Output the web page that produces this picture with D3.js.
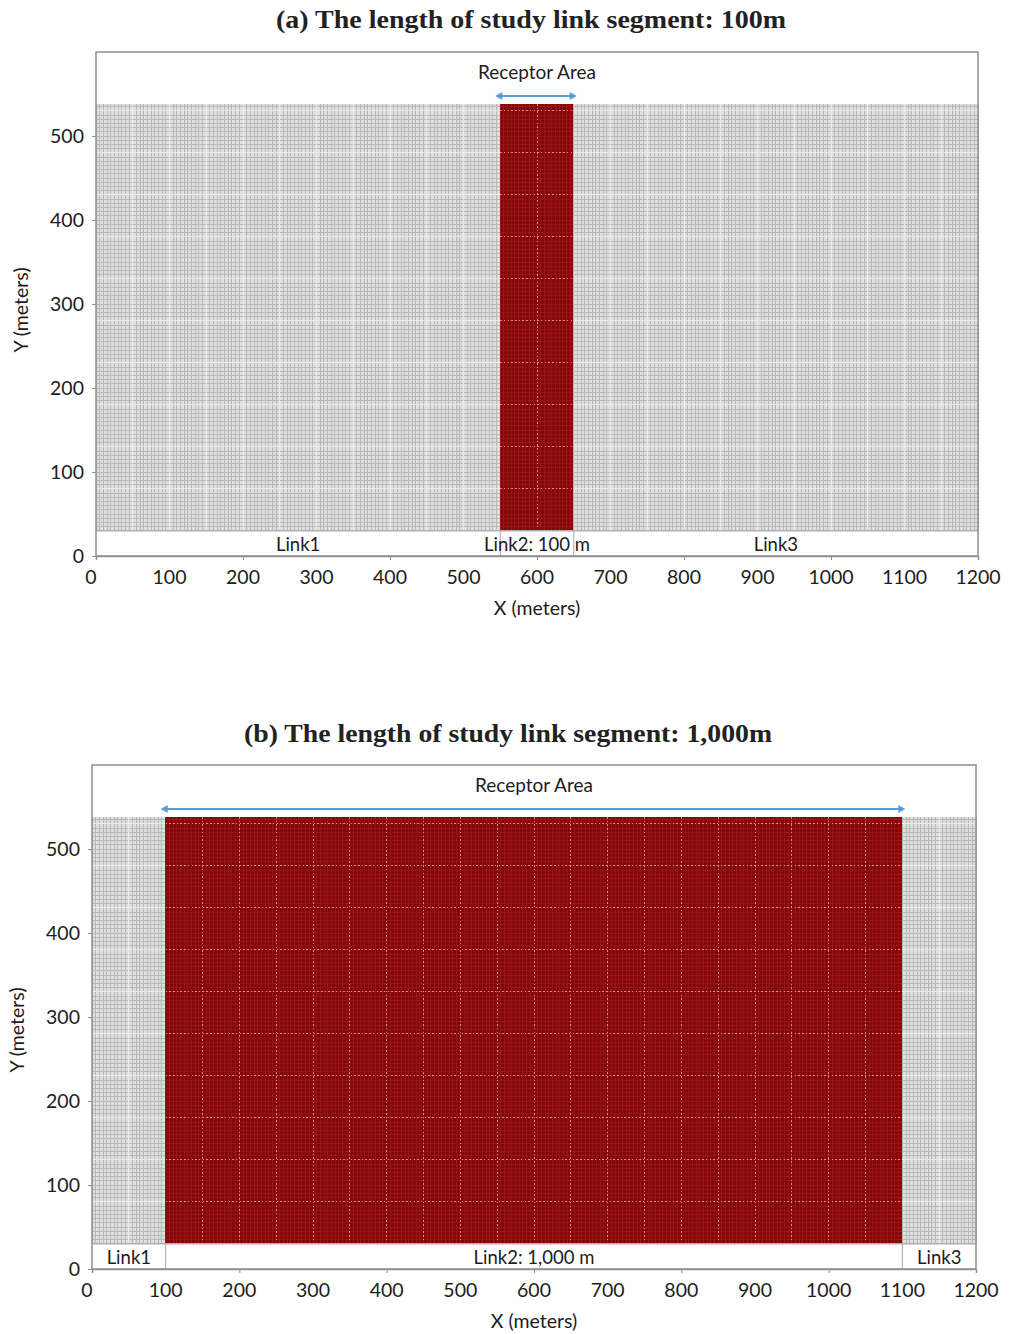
<!DOCTYPE html>
<html>
<head>
<meta charset="utf-8">
<script src="https://cdn.jsdelivr.net/npm/d3@7"></script>
<style>
  html, body { margin: 0; padding: 0; background: #fff; }
  svg { display: block; }
</style>
</head>
<body>
<svg id="chart" width="1011" height="1334"></svg>
<script>
// Study domain (meters)
const xDomain = [0, 1200];
const yDomain = [0, 600];
const xTickLabels = [0, 100, 200, 300, 400, 500, 600, 700, 800, 900, 1000, 1100, 1200];
const xTickMarks = [0, 200, 400, 600, 800, 1000, 1200];
const yTickLabels = [0, 100, 200, 300, 400, 500];

// Receptor grid: rows from the road edge up to the top row, 5 m spacing
const roadEdgeY = 30;
const gridTopY = 538;
const receptorSpacing = 5;
const majorSpacing = 50;

// Panel (a): 100 m study link
const titleA = "(a) The length of study link segment: 100m";
const linkBoundsA = [0, 550, 650, 1200];
const linkNamesA = ["Link1", "Link2: 100 m", "Link3"];
const receptorAreaA = [550, 650];

// Panel (b): 1,000 m study link
const titleB = "(b) The length of study link segment: 1,000m";
const linkBoundsB = [0, 100, 1100, 1200];
const linkNamesB = ["Link1", "Link2: 1,000 m", "Link3"];
const receptorAreaB = [100, 1100];

const svg = d3.select("#chart");
const sansFont = "Lato, 'Open Sans', sans-serif";
const serifFont = "'Liberation Serif', 'DejaVu Serif', serif";
const textColor = "#1c1c1c";

function drawPanel(opt) {
  const { box, title, titleX, titleY, titleWidth, bounds, names, receptor } = opt;
  const x = d3.scaleLinear().domain(xDomain).range([box.left, box.right]);
  const y = d3.scaleLinear().domain(yDomain).range([box.bottom, box.top]);
  const g = svg.append("g");

  // Title
  g.append("text")
    .attr("x", titleX)
    .attr("y", titleY)
    .attr("text-anchor", "middle")
    .attr("font-family", serifFont)
    .attr("font-weight", "bold")
    .attr("font-size", 26)
    .attr("textLength", titleWidth)
    .attr("lengthAdjust", "spacingAndGlyphs")
    .attr("fill", "#222")
    .text(title);

  // Plot frame background
  g.append("rect")
    .attr("x", box.left).attr("y", box.top)
    .attr("width", box.right - box.left).attr("height", box.bottom - box.top)
    .attr("fill", "#fff");

  const rows = d3.range(roadEdgeY, gridTopY + 0.1, receptorSpacing);
  const majorRows = rows.filter(v => (v - roadEdgeY) % majorSpacing === 0 && v > roadEdgeY);

  // Receptor grid regions: gray outside the receptor area, red inside
  const regions = [];
  if (receptor[0] > xDomain[0]) regions.push({ x0: xDomain[0], x1: receptor[0], kind: "gray" });
  regions.push({ x0: receptor[0], x1: receptor[1], kind: "red" });
  if (receptor[1] < xDomain[1]) regions.push({ x0: receptor[1], x1: xDomain[1], kind: "gray" });

  regions.forEach(r => {
    const cols = d3.range(r.x0, r.x1 + 0.1, receptorSpacing);
    const majorCols = cols.filter(v => v % majorSpacing === 0 && v > r.x0 && v < r.x1);
    const rg = g.append("g").attr("shape-rendering", "crispEdges");
    const isRed = r.kind === "red";
    rg.append("rect")
      .attr("x", x(r.x0)).attr("y", y(gridTopY))
      .attr("width", x(r.x1) - x(r.x0)).attr("height", y(roadEdgeY) - y(gridTopY))
      .attr("fill", isRed ? "#850606" : "#dedede");
    rg.selectAll("line.v").data(cols).join("line")
      .attr("x1", d => x(d)).attr("x2", d => x(d))
      .attr("y1", y(gridTopY)).attr("y2", y(roadEdgeY))
      .attr("stroke", isRed ? "#951616" : "#b8b8b8").attr("stroke-width", 1);
    rg.selectAll("line.h").data(rows).join("line")
      .attr("x1", x(r.x0)).attr("x2", x(r.x1))
      .attr("y1", d => y(d)).attr("y2", d => y(d))
      .attr("stroke", isRed ? "#951616" : "#b8b8b8").attr("stroke-width", 1);
    // lighter receptor lines every 50 m
    rg.selectAll("line.mv").data(majorCols).join("line")
      .attr("x1", d => x(d)).attr("x2", d => x(d))
      .attr("y1", y(gridTopY)).attr("y2", y(roadEdgeY))
      .attr("stroke", isRed ? "#e4a0a0" : "#ffffff")
      .attr("stroke-dasharray", isRed ? "1.5,2.2" : null)
      .attr("stroke-opacity", isRed ? 0.85 : 0.7)
      .attr("stroke-width", 1);
    rg.selectAll("line.mh").data(majorRows).join("line")
      .attr("x1", x(r.x0)).attr("x2", x(r.x1))
      .attr("y1", d => y(d)).attr("y2", d => y(d))
      .attr("stroke", isRed ? "#e4a0a0" : "#ffffff")
      .attr("stroke-dasharray", isRed ? "1.5,2.2" : null)
      .attr("stroke-opacity", isRed ? 0.85 : 0.7)
      .attr("stroke-width", 1);
  });

  // Road edge and link dividers
  g.append("line")
    .attr("x1", x(xDomain[0])).attr("x2", x(xDomain[1]))
    .attr("y1", y(roadEdgeY)).attr("y2", y(roadEdgeY))
    .attr("stroke", "#b0b0b0").attr("stroke-width", 1.5);
  g.selectAll("line.div").data(bounds.slice(1, -1)).join("line")
    .attr("x1", d => x(d)).attr("x2", d => x(d))
    .attr("y1", y(roadEdgeY)).attr("y2", y(0))
    .attr("stroke", "#a8a8a8").attr("stroke-width", 1);

  // Link labels centered on each link
  g.selectAll("text.link").data(names).join("text")
    .attr("x", (d, i) => x((bounds[i] + bounds[i + 1]) / 2))
    .attr("y", y(roadEdgeY / 2) + 8)
    .attr("text-anchor", "middle")
    .attr("font-family", sansFont)
    .attr("font-size", 18.5)
    .attr("fill", textColor)
    .text(d => d);

  // Frame
  g.append("rect")
    .attr("x", box.left).attr("y", box.top)
    .attr("width", box.right - box.left).attr("height", box.bottom - box.top)
    .attr("fill", "none").attr("stroke", "#8f8f8f").attr("stroke-width", 1.5);

  // Receptor area arrow
  const arrowY = y(gridTopY) - 8;
  const ah = 7;
  g.append("line")
    .attr("x1", x(receptor[0]) - 3).attr("x2", x(receptor[1]) + 1)
    .attr("y1", arrowY).attr("y2", arrowY)
    .attr("stroke", "#5b9bd5").attr("stroke-width", 2);
  g.append("path")
    .attr("d", `M${x(receptor[0]) - 5},${arrowY} l${ah},-4 l0,8 Z M${x(receptor[1]) + 3},${arrowY} l${-ah},-4 l0,8 Z`)
    .attr("fill", "#5b9bd5");
  g.append("text")
    .attr("x", x((receptor[0] + receptor[1]) / 2))
    .attr("y", arrowY - 17)
    .attr("text-anchor", "middle")
    .attr("font-family", sansFont)
    .attr("font-size", 19)
    .attr("fill", textColor)
    .text("Receptor Area");

  // Axes: tick marks from the scales, labels every 100 m
  const xAxis = g.append("g")
    .attr("transform", `translate(0,${box.bottom})`)
    .call(d3.axisBottom(x).tickValues(xTickMarks).tickSize(4).tickFormat(""));
  xAxis.select(".domain").attr("stroke", "#8f8f8f").attr("stroke-width", 1.5);
  xAxis.selectAll(".tick line").attr("stroke", "#8f8f8f");

  const yAxis = g.append("g")
    .attr("transform", `translate(${box.left},0)`)
    .call(d3.axisLeft(y).tickValues(yTickLabels).tickSize(4).tickFormat(""));
  yAxis.select(".domain").remove();
  yAxis.selectAll(".tick line").attr("stroke", "#8f8f8f");

  g.selectAll("text.xt").data(xTickLabels).join("text")
    .attr("x", d => x(d) - (d === 0 ? 5 : 0))
    .attr("y", box.bottom + 28)
    .attr("text-anchor", "middle")
    .attr("font-family", sansFont)
    .attr("font-size", 19.5)
    .attr("fill", textColor)
    .text(d => d);

  g.selectAll("text.yt").data(yTickLabels).join("text")
    .attr("x", box.left - 12)
    .attr("y", d => y(d) + 7)
    .attr("text-anchor", "end")
    .attr("font-family", sansFont)
    .attr("font-size", 19.5)
    .attr("fill", textColor)
    .text(d => d);

  g.append("text")
    .attr("x", x(600))
    .attr("y", box.bottom + 59)
    .attr("text-anchor", "middle")
    .attr("font-family", sansFont)
    .attr("font-size", 19.5)
    .attr("fill", textColor)
    .text("X (meters)");

  g.append("text")
    .attr("transform", `translate(${box.left - 68},${(box.top + box.bottom) / 2 + opt.yTitleShift}) rotate(-90)`)
    .attr("text-anchor", "middle")
    .attr("font-family", sansFont)
    .attr("font-size", 19.5)
    .attr("fill", textColor)
    .text("Y (meters)");
}

drawPanel({
  box: { left: 96, right: 978, top: 52, bottom: 556 },
  title: titleA, titleX: 531, titleY: 28, titleWidth: 510, yTitleShift: 6,
  bounds: linkBoundsA, names: linkNamesA, receptor: receptorAreaA
});

drawPanel({
  box: { left: 92, right: 976, top: 765, bottom: 1269 },
  title: titleB, titleX: 508, titleY: 742, titleWidth: 528, yTitleShift: 13,
  bounds: linkBoundsB, names: linkNamesB, receptor: receptorAreaB
});
</script>
</body>
</html>
